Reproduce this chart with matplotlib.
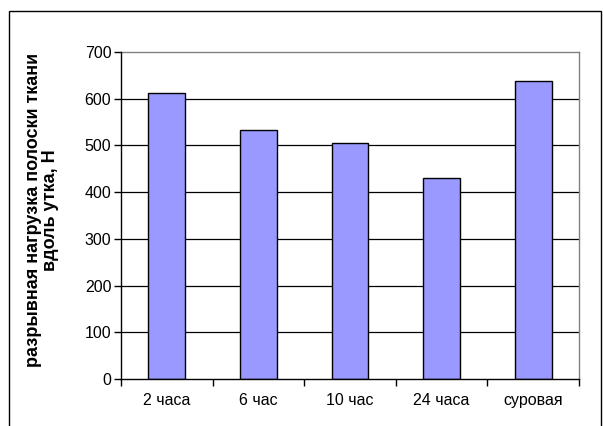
import matplotlib
matplotlib.use("Agg")
import matplotlib.pyplot as plt
from matplotlib.patches import Rectangle
import numpy as np

plt.rcParams['font.family'] = ['Liberation Sans', 'DejaVu Sans']

categories = ["2 часа", "6 час", "10 час", "24 часа", "суровая"]
values = [613, 534, 506, 430, 637]
y_ticks = [0, 100, 200, 300, 400, 500, 600, 700]
y_label = "разрывная нагрузка полоски ткани\nвдоль утка, Н"

fig = plt.figure(figsize=(6.03, 4.26), dpi=100)
ax = fig.add_axes([121/603, 1 - 379/426, 458/603, 327/426])

x = np.arange(len(categories))
ax.bar(x, values, width=0.4, color="#9999FF", edgecolor="black", linewidth=1.0, zorder=3)

ax.set_xlim(-0.5, len(categories) - 0.5)
ax.set_ylim(0, 700)
ax.set_yticks(y_ticks)
ax.set_yticklabels([str(v) for v in y_ticks], fontsize=11.5)
for v in y_ticks[1:-1]:
    ax.axhline(v, color="black", linewidth=0.9, zorder=1)

ax.set_xticks(x)
ax.set_xticklabels(categories, fontsize=11.5)
ax.tick_params(axis='x', which='major', length=0, pad=10)
ax.set_xticks(np.arange(-0.5, len(categories), 1.0), minor=True)
ax.tick_params(axis='x', which='minor', length=5, width=1, direction='out')
ax.tick_params(axis='y', length=5, width=1, direction='out', pad=2)

for s in ("left", "bottom"):
    ax.spines[s].set_color("black")
    ax.spines[s].set_linewidth(1.0)
    ax.spines[s].set_zorder(4)
for s in ("top", "right"):
    ax.spines[s].set_color("#808080")
    ax.spines[s].set_linewidth(1.0)

fig.text(42/603, 1 - 210/426, y_label, rotation=90, ha="center", va="center",
         fontsize=13, fontweight="bold", linespacing=0.95, multialignment="center")

fig.patches.append(Rectangle((9/603, -0.05), 592/603, 1.05 - 11/426,
                             transform=fig.transFigure, fill=False,
                             edgecolor="black", linewidth=1.0))

fig.savefig("out.png", dpi=100)
